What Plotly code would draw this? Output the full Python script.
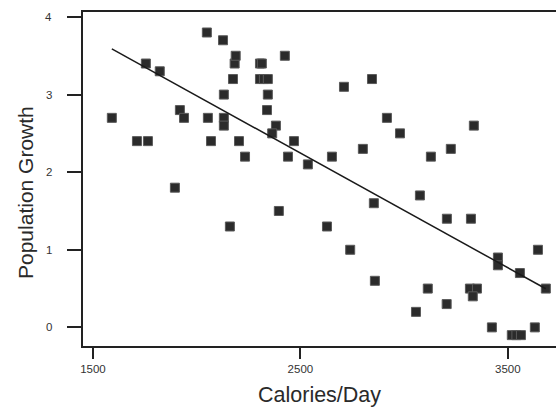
import numpy as np
import plotly.graph_objects as go

# Daily calorie supply vs. population growth (%), one marker per country
calories = [
    1591, 1712, 1765, 1755, 1822, 1895, 1919, 1939, 2049, 2054,
    2069, 2127, 2131, 2131, 2131, 2160, 2175, 2183, 2188, 2204,
    2233, 2305, 2314, 2305, 2324, 2343, 2343, 2339, 2382, 2364,
    2425, 2469, 2440, 2396, 2536, 2628, 2652, 2710, 2740, 2801,
    2845, 2854, 2859, 2917, 2980, 3057, 3076, 3114, 3129, 3205,
    3206, 3225, 3322, 3317, 3351, 3331, 3336, 3423, 3452, 3452,
    3519, 3541, 3563, 3558, 3630, 3645, 3683,
]
growth = [
    2.7, 2.4, 2.4, 3.4, 3.3, 1.8, 2.8, 2.7, 3.8, 2.7,
    2.4, 3.7, 3.0, 2.7, 2.6, 1.3, 3.2, 3.4, 3.5, 2.4,
    2.2, 3.4, 3.4, 3.2, 3.2, 3.2, 3.0, 2.8, 2.6, 2.5,
    3.5, 2.4, 2.2, 1.5, 2.1, 1.3, 2.2, 3.1, 1.0, 2.3,
    3.2, 1.6, 0.6, 2.7, 2.5, 0.2, 1.7, 0.5, 2.2, 0.3,
    1.4, 2.3, 1.4, 0.5, 0.5, 0.4, 2.6, 0.0, 0.9, 0.8,
    -0.1, -0.1, -0.1, 0.7, 0.0, 1.0, 0.5,
]

x_ticks = [1500, 2500, 3500]
y_ticks = [0, 1, 2, 3, 4]

x = np.array(calories, dtype=float)
y = np.array(growth, dtype=float)

# least-squares trend line across the observed calorie range
slope, intercept = np.polyfit(x, y, 1)
fit_x = np.array([x.min(), x.max()])
fit_y = slope * fit_x + intercept

FONT = "Liberation Sans, Arial, sans-serif"
INK = "#222222"
LABEL = "#333333"

fig = go.Figure()
fig.add_trace(go.Scatter(
    x=calories, y=growth, mode="markers",
    marker=dict(symbol="square", size=9, color="#2b2b2b",
                line=dict(color="#5a5a5a", width=1)),
    hoverinfo="skip", showlegend=False,
))
fig.add_trace(go.Scatter(
    x=fit_x, y=fit_y, mode="lines",
    line=dict(color="#1a1a1a", width=1.5),
    hoverinfo="skip", showlegend=False,
))

# y tick labels sit well clear of the long tick marks
y_labels = [
    dict(text=str(v), xref="paper", yref="y", x=0, y=v,
         xanchor="right", yanchor="middle", xshift=-29,
         showarrow=False, font=dict(size=11.5, color=LABEL, family=FONT))
    for v in y_ticks
]

fig.update_layout(
    width=556, height=410,
    margin=dict(l=83, r=0, t=12, b=64),
    paper_bgcolor="white", plot_bgcolor="white",
    font=dict(family=FONT, color=LABEL),
    xaxis=dict(
        range=[1452, 3732], tickvals=x_ticks, ticktext=[str(v) for v in x_ticks],
        showgrid=False, zeroline=False,
        showline=True, mirror=True, linecolor=INK, linewidth=2,
        ticks="outside", ticklen=11, tickwidth=1.5, tickcolor=INK,
        tickfont=dict(size=11.5, color=LABEL),
    ),
    yaxis=dict(
        range=[-0.24, 4.064], tickvals=y_ticks, showticklabels=False,
        showgrid=False, zeroline=False,
        showline=True, mirror=False, linecolor=INK, linewidth=2,
        ticks="outside", ticklen=14, tickwidth=1.5, tickcolor=INK,
    ),
    annotations=y_labels + [
        dict(text="Calories/Day", xref="paper", yref="paper",
             x=0.5, y=0, xanchor="center", yanchor="middle", yshift=-49,
             showarrow=False, font=dict(size=21.5, color="#2a2a2a", family=FONT)),
        dict(text="Population Growth", xref="paper", yref="paper",
             x=0, y=0.5, xanchor="center", yanchor="middle",
             xshift=-58, yshift=-14, textangle=-90,
             showarrow=False, font=dict(size=21, color="#2a2a2a", family=FONT)),
    ],
)

fig.write_html("out.html", config={"displayModeBar": False})
